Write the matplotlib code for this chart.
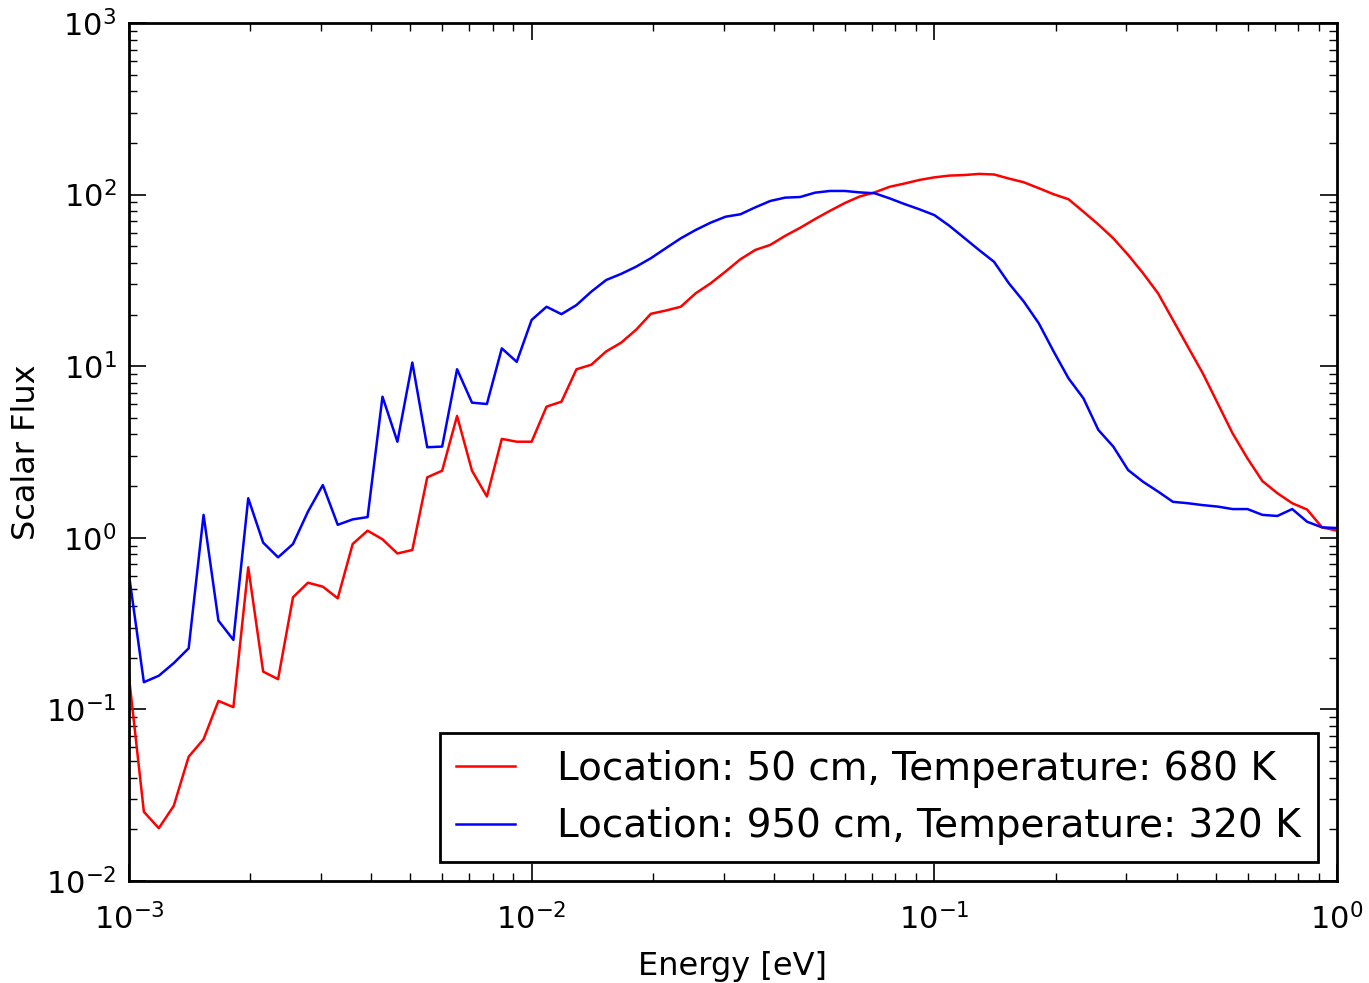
import matplotlib
matplotlib.use('Agg')
import matplotlib.pyplot as plt

plt.rcParams['axes.unicode_minus'] = False
plt.rcParams['font.family'] = 'DejaVu Sans'

# energy grid [eV]
energy = [0.001, 0.001089, 0.001186, 0.001292, 0.001407, 0.001532, 0.001668, 0.001817, 0.001978,
          0.002154, 0.002346, 0.002555, 0.002783, 0.003030, 0.003300, 0.003594, 0.003914, 0.004262,
          0.004642, 0.005055, 0.005505, 0.005995, 0.006529, 0.007110, 0.007743, 0.008432, 0.009183,
          0.01, 0.01089, 0.01186, 0.01292, 0.01407, 0.01532, 0.01668, 0.01817, 0.01978,
          0.02154, 0.02346, 0.02555, 0.02783, 0.03030, 0.03300, 0.03594, 0.03914, 0.04262,
          0.04642, 0.05055, 0.05505, 0.05995, 0.06529, 0.07110, 0.07743, 0.08432, 0.09183,
          0.1, 0.1089, 0.1186, 0.1292, 0.1407, 0.1532, 0.1668, 0.1817, 0.1978,
          0.2154, 0.2346, 0.2555, 0.2783, 0.3030, 0.3300, 0.3594, 0.3914, 0.4262,
          0.4642, 0.5055, 0.5505, 0.5995, 0.6529, 0.7110, 0.7743, 0.8432, 0.9183, 1.0]

# scalar flux, location 50 cm (680 K)
flux_50 = [0.155, 0.0253, 0.0203, 0.0274, 0.053, 0.067, 0.112, 0.103, 0.673,
           0.166, 0.150, 0.450, 0.547, 0.519, 0.444, 0.92, 1.10, 0.98,
           0.81, 0.849, 2.25, 2.46, 5.13, 2.46, 1.74, 3.77, 3.63,
           3.63, 5.81, 6.21, 9.59, 10.2, 12.2, 13.7, 16.3, 20.2,
           21.1, 22.2, 26.6, 30.4, 35.6, 42.0, 47.6, 50.9, 57.5,
           64.0, 72.0, 80.4, 89.3, 97.5, 103, 111, 116, 121.7,
           126, 129, 130, 132, 131, 124, 118, 109, 100.5,
           94, 79.5, 67, 55.6, 44.5, 34.8, 26.6, 18.6, 13.0,
           9.1, 6.08, 4.06, 2.90, 2.14, 1.82, 1.59, 1.46, 1.15, 1.10]

# scalar flux, location 950 cm (320 K)
flux_950 = [0.61, 0.144, 0.157, 0.186, 0.227, 1.36, 0.329, 0.254, 1.70,
            0.937, 0.769, 0.92, 1.42, 2.03, 1.19, 1.28, 1.32, 6.64,
            3.63, 10.5, 3.37, 3.40, 9.6, 6.13, 6.02, 12.7, 10.6,
            18.6, 22.2, 20.1, 22.7, 27.2, 31.8, 34.5, 38.0, 42.6,
            48.7, 55.6, 62.2, 68.6, 74.3, 76.8, 84.3, 91.8, 96.0,
            96.8, 102.6, 105, 105, 103, 101.8, 95.1, 88.1, 82.1,
            76.0, 65.9, 56, 47.5, 40.6, 30.4, 23.8, 17.8, 12.2,
            8.5, 6.5, 4.25, 3.40, 2.48, 2.12, 1.86, 1.62, 1.59,
            1.55, 1.52, 1.47, 1.47, 1.36, 1.34, 1.47, 1.24, 1.15, 1.14]

fig = plt.figure(figsize=(13.69, 9.83), dpi=100)
ax = fig.add_axes([0.0942, 0.1038, 0.8824, 0.8728])

ax.loglog(energy, flux_50, color='r', lw=1.8, label='Location: 50 cm, Temperature: 680 K')
ax.loglog(energy, flux_950, color='b', lw=1.8, label='Location: 950 cm, Temperature: 320 K')

ax.set_xlim(1e-3, 1)
ax.set_ylim(1e-2, 1e3)

ax.tick_params(which='both', direction='in', top=True, right=True, labelsize=22)
ax.tick_params(which='major', length=12, width=1.2)
ax.tick_params(which='minor', length=6, width=1)
ax.tick_params(axis='x', which='major', pad=16)
ax.tick_params(axis='y', which='major', pad=9)
for s in ax.spines.values():
    s.set_linewidth(2)

ax.set_xlabel('Energy [eV]', fontsize=23)
ax.set_ylabel('Scalar Flux', fontsize=23)
ax.xaxis.set_label_coords(0.5, -0.082)
ax.yaxis.set_label_coords(-0.072, 0.5)

leg = ax.legend(loc='lower right', fontsize=28, fancybox=False, framealpha=1,
                handlelength=1.5, handletextpad=1.1, borderpad=0.42, labelspacing=0.5,
                borderaxespad=0.5)
leg.get_frame().set_edgecolor('k')
leg.get_frame().set_linewidth(2)

fig.savefig('out.png', dpi=100, facecolor='white')
